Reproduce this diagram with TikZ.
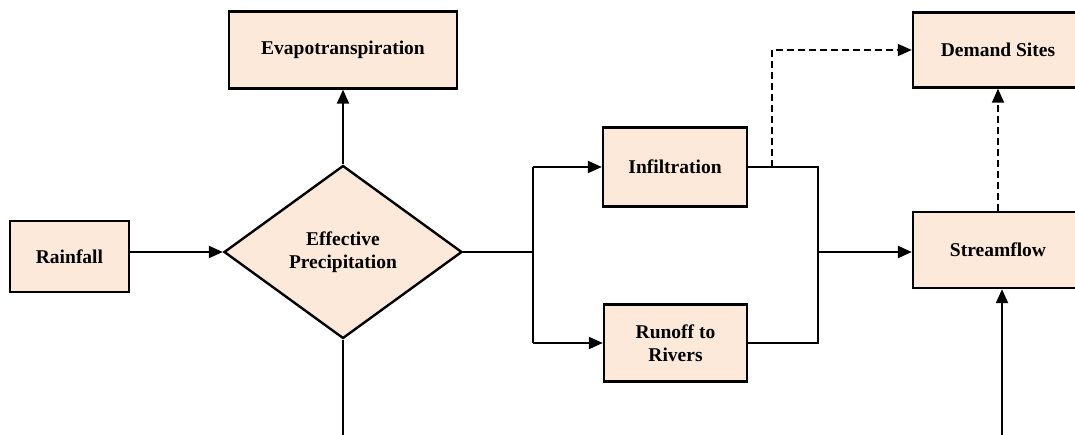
\documentclass[tikz,border=0pt]{standalone}
\usepackage{fontspec}
\setmainfont{Liberation Serif}
\usetikzlibrary{shapes.geometric,arrows.meta,calc}
\definecolor{peach}{RGB}{252,233,218}
\tikzset{
  box/.style={draw=black,line width=2.4pt,fill=peach,inner sep=0pt,align=center,
    font=\bfseries\fontsize{19.5}{23.5}\selectfont},
  dia/.style={box,shape=diamond,shape aspect=1.376},
  arr/.style={line width=2.2pt,-{Triangle[length=14pt,width=12pt]}},
  thin/.style={line width=1.5pt},
  dasharr/.style={line width=1.8pt,dash pattern=on 7pt off 4pt,-{Triangle[length=14pt,width=12pt]}}
}
\begin{document}
\begin{tikzpicture}[x=1pt,y=-1pt]
\useasboundingbox (0,0) rectangle (1075,435);
\clip (0,0) rectangle (1075,435);
\node[box,minimum width=228pt,minimum height=77pt] (evap) at (343,50) {Evapotranspiration};
\node[box,minimum width=119pt,minimum height=71pt] (rain) at (69.5,256.5) {Rainfall};
\node[dia,minimum width=238pt,minimum height=173pt] (eff) at (343,252) {Effective\\Precipitation};
\node[box,minimum width=144pt,minimum height=79pt] (infil) at (675,167) {Infiltration};
\node[box,minimum width=143pt,minimum height=77pt] (run) at (675.5,343) {Runoff to\\Rivers};
\node[box,minimum width=170pt,minimum height=75pt] (dem) at (998,50) {Demand Sites};
\node[box,minimum width=170pt,minimum height=76pt] (str) at (998,250) {Streamflow};
\coordinate (j1) at (533,252);
\coordinate (j2) at (818,252);
\coordinate (b1) at (343,437);
\coordinate (b2) at (1002,437);
\coordinate (d1) at (772,167);
% connectors
\draw[arr] (rain.east |- eff.west) -- (eff.west);
\draw[arr] (eff.north) -- (evap.south);
\draw[line width=1.8pt] (eff.south) -- (b1);
\draw[thin] (eff.east) -- (j1);
\draw[thin] (j1 |- infil.west) -- (j1 |- run.west);
\draw[arr] (j1 |- infil.west) -- (infil.west);
\draw[arr] (j1 |- run.west) -- (run.west);
\draw[thin] (infil.east) -- (j2 |- infil.east) -- (j2 |- run.east) -- (run.east);
\draw[arr] (j2) -- (j2 -| str.west);
\draw[dasharr] (d1) -- (d1 |- dem.west) -- (dem.west);
\draw[dasharr] (str.north) -- (dem.south);
\draw[arr] (b2) -- (b2 |- str.south);
\end{tikzpicture}
\end{document}
